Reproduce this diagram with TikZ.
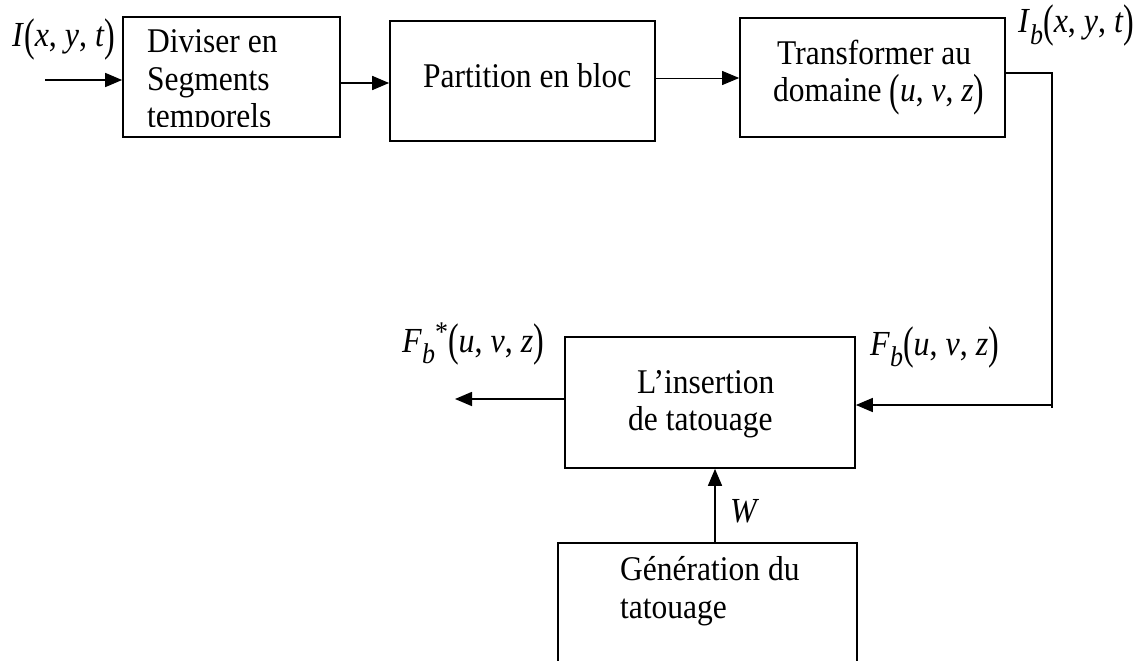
\documentclass[tikz,border=0pt]{standalone}
\usepackage{fontspec}
\setmainfont{Liberation Serif}
\usepackage{graphicx}
\usetikzlibrary{arrows.meta}
\newcommand{\lp}{\raisebox{-0.1em}{\scalebox{1}[1.3]{(}}}
\newcommand{\rp}{\raisebox{-0.1em}{\scalebox{1}[1.3]{)}}}
\newcommand{\sub}[1]{\raisebox{-0.32em}{\fontsize{26}{26}\selectfont\itshape #1}}
\newcommand{\vs}[1]{\scalebox{1}[1.1]{#1}}
\tikzset{
  boxnode/.style={draw, line width=1.7pt, minimum width=#1, inner sep=0pt},
  txt/.style={anchor=base west, inner sep=0pt, font=\fontsize{31.5}{37}\selectfont},
  lbl/.style={anchor=base west, inner sep=0pt, font=\fontsize{32}{37}\selectfont},
  arr/.style={-{Triangle[length=17pt,width=14pt]}, line width=1.6pt},
  thinarr/.style={-{Triangle[length=17pt,width=14pt]}, line width=0.9pt},
  wire/.style={line width=1.6pt}
}
\begin{document}
\begin{tikzpicture}[x=1pt,y=-1pt]
\useasboundingbox (0,0) rectangle (1146,661);
\clip (0,0) rectangle (1146,661);
% boxes
\node[boxnode=217pt, minimum height=120pt] (b1) at (231.5,77) {};
\node[boxnode=265pt, minimum height=120pt] (b2) at (522.5,81) {};
\node[boxnode=265pt, minimum height=119pt] (b3) at (872.5,77.5) {};
\node[boxnode=290pt, minimum height=131pt] (ins) at (710,402.5) {};
\draw[line width=1.7pt] (558,700) -- (558,543) -- (857,543) -- (857,700);
\coordinate (gtop) at (715,543);
% texts
\begin{scope}
\clip (123,17) rectangle (340,126);
\node[txt] (t1a) at (147,53) {\vs{Diviser en}};
\node[txt] (t1b) at (147,90) {\vs{Segments}};
\node[txt] (t1c) at (147,127) {\vs{temporels}};
\end{scope}
\node[txt] (t2) at (423,88) {\vs{Partition en bloc}};
\node[txt] (t3a) at (777,65) {\vs{Transformer au}};
\node[txt] (t3b) at (773,102) {\vs{domaine \lp\textit{u}, \textit{v}, \textit{z}\rp}};
\node[txt] (t4a) at (637,393) {\vs{L’insertion}};
\node[txt] (t4b) at (628,430) {\vs{de tatouage}};
\node[txt] (t5a) at (620,580) {\vs{Génération du}};
\node[txt] (t5b) at (620,618) {\vs{tatouage}};
% labels
\node[lbl] (lI) at (12,47) {\vs{\textit{I}\lp\textit{x}, \textit{y}, \textit{t}\rp}};
\node[lbl] (lIb) at (1018,33) {\vs{\textit{I}\sub{b}\lp\textit{x}, \textit{y}, \textit{t}\rp}};
\node[lbl] (lFs) at (402,352) {\vs{\textit{F}\sub{b}\raisebox{0.3em}{\fontsize{26}{26}\selectfont *}\lp\textit{u}, \textit{v}, \textit{z}\rp}};
\node[lbl] (lF) at (870,355) {\vs{\textit{F}\sub{b}\lp\textit{u}, \textit{v}, \textit{z}\rp}};
\node[lbl] (lW) at (730,522) {\vs{\textit{W}}};
% connectors
\coordinate (inp) at (45,80);
\draw[arr] (inp) -- (inp -| b1.west);
\coordinate (c12) at (340,83);
\draw[arr] (c12 -| b1.east) -- (c12 -| b2.west);
\coordinate (c23) at (655,78);
\draw[thinarr] (c23 -| b2.east) -- (c23 -| b3.west);
\coordinate (k1) at (1052,73);
\coordinate (k2) at (1052,408);
\coordinate (k3) at (1052,405);
\draw[wire] (k1 -| b3.east) -- (k1) -- (k2);
\draw[arr] (k3) -- (k3 -| ins.east);
\coordinate (outp) at (455,399);
\draw[arr] (outp -| ins.west) -- (outp);
\draw[arr] (gtop) -- (gtop |- ins.south);
\end{tikzpicture}
\end{document}
